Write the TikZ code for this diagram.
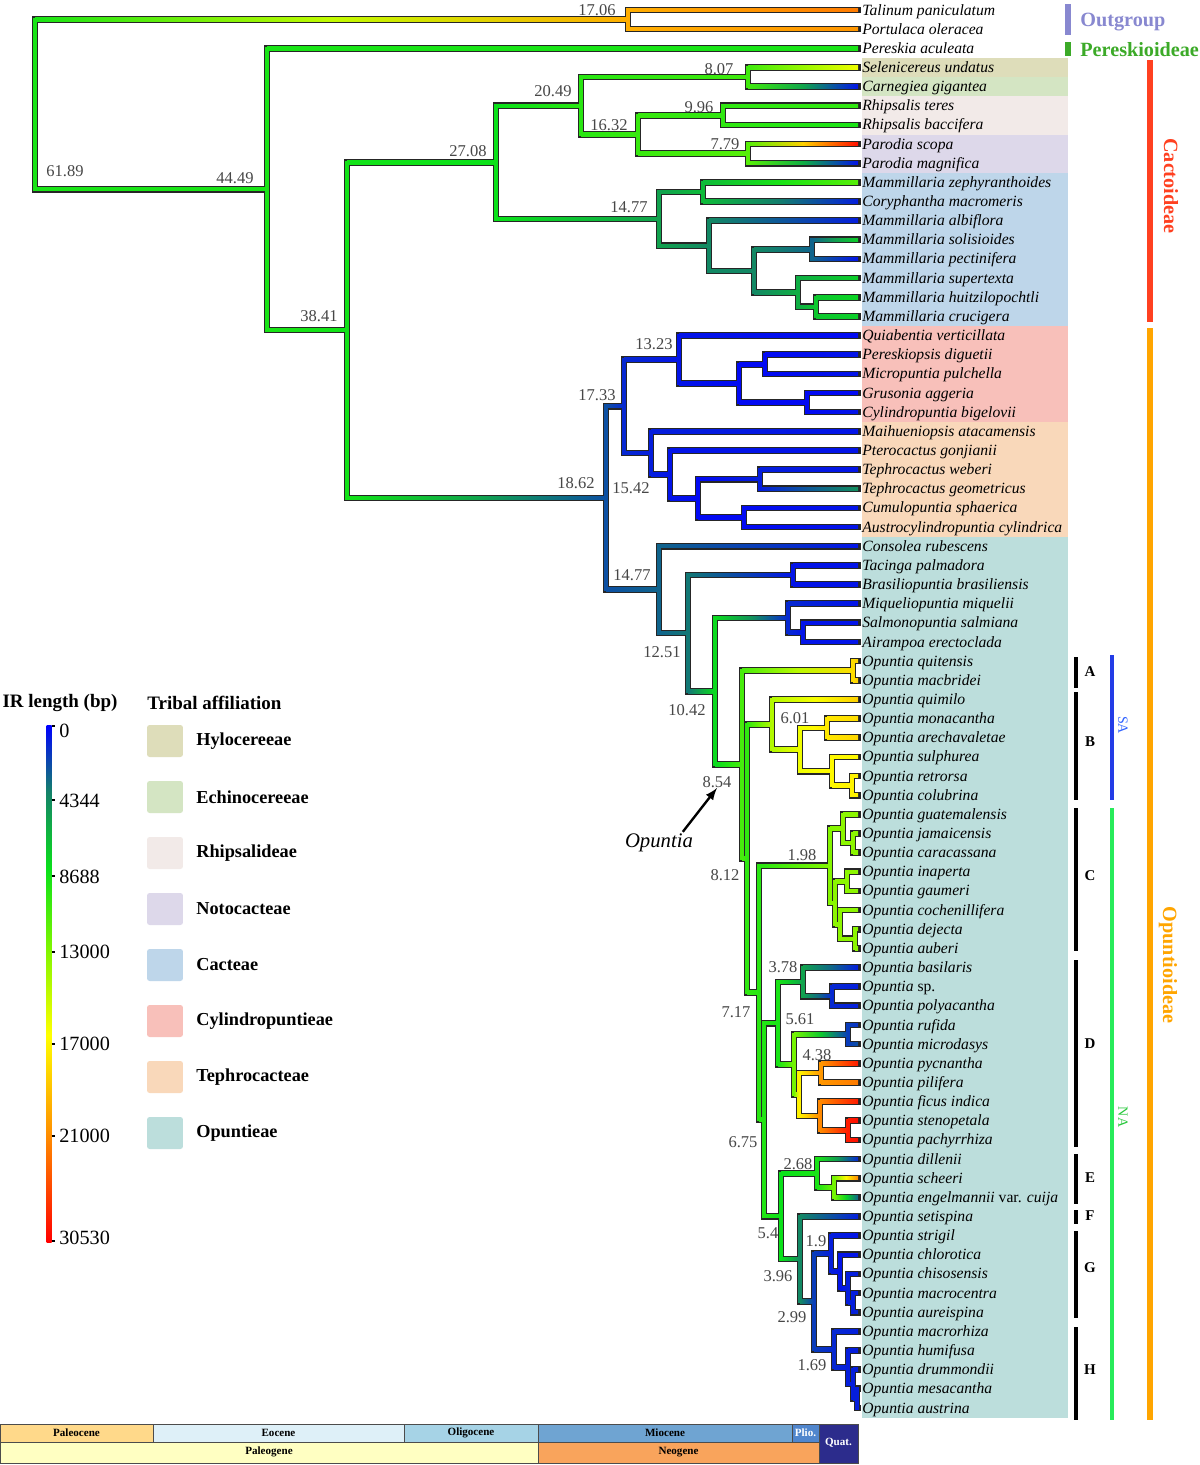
\documentclass[tikz,border=0pt]{standalone}
\usepackage{fontspec}
\setmainfont{Liberation Serif}
\usetikzlibrary{calc}
\pgfdeclarelayer{back}
\pgfdeclarelayer{bg}
\pgfsetlayers{back,bg,main}
\definecolor{cb0}{RGB}{0,0,255}
\definecolor{cb1}{RGB}{20,130,105}
\definecolor{cb2}{RGB}{10,225,25}
\definecolor{cb3}{RGB}{125,245,0}
\definecolor{cb4}{RGB}{255,255,0}
\definecolor{cb5}{RGB}{255,150,0}
\definecolor{cb6}{RGB}{255,0,0}
\definecolor{hylo}{RGB}{222,221,186}
\definecolor{echi}{RGB}{212,229,195}
\definecolor{rhip}{RGB}{242,234,232}
\definecolor{noto}{RGB}{221,216,234}
\definecolor{cact}{RGB}{190,214,234}
\definecolor{cyli}{RGB}{248,192,186}
\definecolor{teph}{RGB}{249,216,186}
\definecolor{opun}{RGB}{188,222,220}
\definecolor{outg}{RGB}{136,136,208}
\definecolor{peres}{RGB}{60,170,40}
\definecolor{cacto}{RGB}{255,64,32}
\definecolor{opunt}{RGB}{255,165,0}
\definecolor{sabar}{RGB}{35,60,230}
\definecolor{satxt}{RGB}{50,100,255}
\definecolor{nabar}{RGB}{40,235,90}
\definecolor{natxt}{RGB}{40,200,60}
\definecolor{paleoc}{RGB}{255,217,138}
\definecolor{eoc}{RGB}{222,240,248}
\definecolor{oligo}{RGB}{166,211,230}
\definecolor{mioc}{RGB}{111,164,210}
\definecolor{plio}{RGB}{80,134,205}
\definecolor{quat}{RGB}{44,44,140}
\definecolor{paleog}{RGB}{255,255,194}
\definecolor{neog}{RGB}{249,164,92}
\pgfdeclareverticalshading{irbar}{100bp}{color(0bp)=(cb6); color(25bp)=(cb6); color(36bp)=(cb5); color(45bp)=(cb4); color(53.5bp)=(cb3); color(61bp)=(cb2); color(68.5bp)=(cb1); color(75bp)=(cb0); color(100bp)=(cb0)}
\NewDocumentCommand\irc{mm}{%
  \pgfmathsetmacro\irv{#1}%
  \ifdim\irv pt<13pt\relax
    \pgfmathsetmacro\irp{100*\irv/13}\colorlet{#2}{cb1!\irp!cb0}%
  \else\ifdim\irv pt<28pt\relax
    \pgfmathsetmacro\irp{100*(\irv-13)/15}\colorlet{#2}{cb2!\irp!cb1}%
  \else\ifdim\irv pt<43pt\relax
    \pgfmathsetmacro\irp{100*(\irv-28)/15}\colorlet{#2}{cb3!\irp!cb2}%
  \else\ifdim\irv pt<60pt\relax
    \pgfmathsetmacro\irp{100*(\irv-43)/17}\colorlet{#2}{cb4!\irp!cb3}%
  \else\ifdim\irv pt<78pt\relax
    \pgfmathsetmacro\irp{100*(\irv-60)/18}\colorlet{#2}{cb5!\irp!cb4}%
  \else
    \pgfmathsetmacro\irp{100*(\irv-78)/22}\colorlet{#2}{cb6!\irp!cb5}%
  \fi\fi\fi\fi\fi}
\NewDocumentCommand\leaf{mmmm}{%
  \coordinate (#1) at (858,{10+(#2-1)*19.15});
  \expandafter\gdef\csname ir@#1\endcsname{#3}%
  \node[taxon] (#1-t) at (862,{10+(#2-1)*19.15}) {#4};}
\NewDocumentCommand\brn{mm}{%
  \pgfmathsetmacro\va{\csname ir@#1\endcsname}%
  \pgfmathsetmacro\vb{\csname ir@#2\endcsname}%
  \pgfmathsetmacro\vm{(\va+\vb)/2}%
  \irc{\va}{brA}\irc{\vb}{brB}\irc{\vm}{brM}%
  \begin{pgfonlayer}{bg}\draw[brout] (#1) |- (#2);\end{pgfonlayer}%
  \draw[brin, brA] (#1) -- (#1 |- #2);
  \shade[left color=brA, right color=brB, middle color=brM] ($(#1 |- #2)+(0,-1.75)$) rectangle ($(#2)+(0,1.75)$);}
\NewDocumentCommand\clade{mmmmm}{%
  \path (#3) -- (#4) coordinate[pos=.5] (#1-m);
  \coordinate (#1) at (#2,0 |- #1-m);
  \expandafter\gdef\csname ir@#1\endcsname{#5}%
  \brn{#1}{#3}\brn{#1}{#4}}
\begin{document}
\begin{tikzpicture}[>=latex, x=0.02cm, y=-0.02cm,
  brout/.style={line width=3.8pt, draw=black!85, line cap=rect, line join=miter},
  brin/.style={line width=2pt, line cap=rect},
  taxon/.style={anchor=west, inner sep=0pt, text height=1.5ex, text depth=.25ex, font=\fontsize{8.9}{10}\selectfont\itshape},
  blab/.style={inner sep=0pt, text=black!72, font=\fontsize{9.4}{10}\selectfont},
  grp/.style={inner sep=0pt, font=\fontsize{11.5}{12}\selectfont\bfseries},
  cl/.style={inner sep=0pt, font=\fontsize{8.5}{9}\selectfont\bfseries},
  reg/.style={inner sep=0pt, rotate=-90, font=\fontsize{8}{9}\selectfont},
  legh/.style={inner sep=0pt, font=\fontsize{10.8}{12}\selectfont\bfseries},
  legl/.style={anchor=west, inner sep=0pt, font=\fontsize{10.4}{12}\selectfont\bfseries},
  swatch/.style={minimum width=0.72cm, minimum height=0.64cm, inner sep=0pt, rounded corners=1.5pt},
  cbl/.style={anchor=west, inner sep=0pt, font=\fontsize{11.5}{12}\selectfont},
  gts/.style={draw=black!70, line width=0.5pt},
  gtxt/.style={inner sep=0pt, font=\fontsize{6.3}{7}\selectfont\bfseries}]
\begin{pgfonlayer}{back}
\fill[white] (0,0) rectangle (1200,1465);
\end{pgfonlayer}
\useasboundingbox (0,0) rectangle (1200,1465);

\fill[hylo] (862,57.9) rectangle (1068,77);
\fill[echi] (862,77) rectangle (1068,96.2);
\fill[rhip] (862,96.2) rectangle (1068,134.5);
\fill[noto] (862,134.5) rectangle (1068,172.8);
\fill[cact] (862,172.8) rectangle (1068,326);
\fill[cyli] (862,326) rectangle (1068,421.7);
\fill[teph] (862,421.7) rectangle (1068,536.6);
\fill[opun] (862,536.6) rectangle (1068,1417.6);

\leaf{tal}{1}{82}{Talinum paniculatum}
\leaf{por}{2}{78}{Portulaca oleracea}
\leaf{per}{3}{30}{Pereskia aculeata}
\leaf{sel}{4}{58}{Selenicereus undatus}
\leaf{car}{5}{2}{Carnegiea gigantea}
\leaf{rte}{6}{33}{Rhipsalis teres}
\leaf{rba}{7}{30}{Rhipsalis baccifera}
\leaf{psc}{8}{98}{Parodia scopa}
\leaf{pma}{9}{2}{Parodia magnifica}
\leaf{mze}{10}{38}{Mammillaria zephyranthoides}
\leaf{cma}{11}{3}{Coryphantha macromeris}
\leaf{mal}{12}{3}{Mammillaria albiflora}
\leaf{mso}{13}{25}{Mammillaria solisioides}
\leaf{mpe}{14}{2}{Mammillaria pectinifera}
\leaf{msu}{15}{25}{Mammillaria supertexta}
\leaf{mhu}{16}{26}{Mammillaria huitzilopochtli}
\leaf{mcr}{17}{25}{Mammillaria crucigera}
\leaf{qve}{18}{1}{Quiabentia verticillata}
\leaf{pdi}{19}{2}{Pereskiopsis diguetii}
\leaf{mpu}{20}{2}{Micropuntia pulchella}
\leaf{gag}{21}{1}{Grusonia aggeria}
\leaf{cbi}{22}{2}{Cylindropuntia bigelovii}
\leaf{mat}{23}{2}{Maihueniopsis atacamensis}
\leaf{pgo}{24}{2}{Pterocactus gonjianii}
\leaf{twe}{25}{2}{Tephrocactus weberi}
\leaf{tge}{26}{15}{Tephrocactus geometricus}
\leaf{csp}{27}{2}{Cumulopuntia sphaerica}
\leaf{acy}{28}{2}{Austrocylindropuntia cylindrica}
\leaf{cru}{29}{2}{Consolea rubescens}
\leaf{tpa}{30}{2}{Tacinga palmadora}
\leaf{bbr}{31}{2}{Brasiliopuntia brasiliensis}
\leaf{mmi}{32}{2}{Miqueliopuntia miquelii}
\leaf{ssa}{33}{2}{Salmonopuntia salmiana}
\leaf{aer}{34}{2}{Airampoa erectoclada}
\leaf{oqu}{35}{68}{Opuntia quitensis}
\leaf{omb}{36}{68}{Opuntia macbridei}
\leaf{oqm}{37}{68}{Opuntia quimilo}
\leaf{omo}{38}{66}{Opuntia monacantha}
\leaf{oar}{39}{67}{Opuntia arechavaletae}
\leaf{osu}{40}{61}{Opuntia sulphurea}
\leaf{ore}{41}{62}{Opuntia retrorsa}
\leaf{oco}{42}{62}{Opuntia colubrina}
\leaf{ogu}{43}{45}{Opuntia guatemalensis}
\leaf{oja}{44}{45}{Opuntia jamaicensis}
\leaf{oca}{45}{45}{Opuntia caracassana}
\leaf{oin}{46}{45}{Opuntia inaperta}
\leaf{oga}{47}{45}{Opuntia gaumeri}
\leaf{och}{48}{45}{Opuntia cochenillifera}
\leaf{ode}{49}{45}{Opuntia dejecta}
\leaf{oau}{50}{45}{Opuntia auberi}
\leaf{oba}{51}{3}{Opuntia basilaris}
\leaf{osp}{52}{3}{Opuntia \textup{sp.}}
\leaf{opo}{53}{3}{Opuntia polyacantha}
\leaf{oru}{54}{5}{Opuntia rufida}
\leaf{omi}{55}{8}{Opuntia microdasys}
\leaf{opy}{56}{96}{Opuntia pycnantha}
\leaf{opi}{57}{82}{Opuntia pilifera}
\leaf{ofi}{58}{96}{Opuntia ficus indica}
\leaf{ost}{59}{98}{Opuntia stenopetala}
\leaf{opa}{60}{98}{Opuntia pachyrrhiza}
\leaf{odi}{61}{4}{Opuntia dillenii}
\leaf{osc}{62}{80}{Opuntia scheeri}
\leaf{oen}{63}{10}{Opuntia engelmannii \textup{var.} cuija}
\leaf{ose}{64}{3}{Opuntia setispina}
\leaf{osg}{65}{2}{Opuntia strigil}
\leaf{ocl}{66}{2}{Opuntia chlorotica}
\leaf{ocs}{67}{3}{Opuntia chisosensis}
\leaf{omc}{68}{3}{Opuntia macrocentra}
\leaf{oai}{69}{4}{Opuntia aureispina}
\leaf{omr}{70}{3}{Opuntia macrorhiza}
\leaf{ohu}{71}{3}{Opuntia humifusa}
\leaf{odr}{72}{3}{Opuntia drummondii}
\leaf{ome}{73}{3}{Opuntia mesacantha}
\leaf{oas}{74}{3}{Opuntia austrina}

\clade{nog}{628}{tal}{por}{74}
\clade{nhy}{748}{sel}{car}{35}
\clade{nrh}{723}{rte}{rba}{33}
\clade{npa}{748}{psc}{pma}{38}
\clade{nrp}{638}{nrh}{npa}{34}
\clade{nhr}{581}{nhy}{nrp}{32}
\clade{nmz}{703}{mze}{cma}{22}
\clade{nmd}{812}{mso}{mpe}{10}
\clade{nmf}{816}{mhu}{mcr}{24}
\clade{nme}{798}{msu}{nmf}{20}
\clade{nmc}{754}{nmd}{nme}{14}
\clade{nmb}{709}{mal}{nmc}{14}
\clade{nca}{659}{nmz}{nmb}{18}
\clade{nct}{496}{nhr}{nca}{28}
\clade{npm}{765}{pdi}{mpu}{1}
\clade{ngc}{807}{gag}{cbi}{1}
\clade{npg}{739}{npm}{ngc}{1}
\clade{ncy}{679}{qve}{npg}{2}
\clade{ntw}{760}{twe}{tge}{3}
\clade{ncu}{744}{csp}{acy}{1}
\clade{ntc}{698}{ntw}{ncu}{1}
\clade{npt}{670}{pgo}{ntc}{2}
\clade{nte}{651}{mat}{npt}{3}
\clade{ncte}{624}{ncy}{nte}{4}
\clade{ntb}{793}{tpa}{bbr}{2}
\clade{nsa}{803}{ssa}{aer}{2}
\clade{nmq}{788}{mmi}{nsa}{4}
\clade{nA}{853}{oqu}{omb}{66}
\clade{nrc}{852}{ore}{oco}{62}
\clade{nsu}{832}{osu}{nrc}{61}
\clade{nma}{827}{omo}{oar}{64}
\clade{nb6}{800}{nma}{nsu}{58}
\clade{nB}{772}{oqm}{nb6}{50}
\clade{njc}{853}{oja}{oca}{45}
\clade{nc1}{843}{ogu}{njc}{45}
\clade{nig}{847}{oin}{oga}{45}
\clade{nda}{855}{ode}{oau}{45}
\clade{ncd}{840}{och}{nda}{45}
\clade{nc2}{835}{nig}{ncd}{45}
\clade{nC}{830}{nc1}{nc2}{44}
\clade{nsp}{832}{osp}{opo}{4}
\clade{nb3}{803}{oba}{nsp}{18}
\clade{nrm}{848}{oru}{omi}{6}
\clade{npp}{821}{opy}{opi}{78}
\clade{nsp2}{848}{ost}{opa}{96}
\clade{nfs}{820}{ofi}{nsp2}{80}
\clade{nY}{799}{npp}{nfs}{62}
\clade{nX}{794}{nrm}{nY}{42}
\clade{nD}{778}{nb3}{nX}{30}
\clade{nse}{834}{osc}{oen}{42}
\clade{nE}{817}{odi}{nse}{30}
\clade{nmac}{853}{omc}{oai}{3}
\clade{nchi}{848}{ocs}{nmac}{3}
\clade{nchl}{840}{ocl}{nchi}{2}
\clade{nG}{831}{osg}{nchl}{3}
\clade{nme2}{857}{ome}{oas}{3}
\clade{ndr}{853}{odr}{nme2}{3}
\clade{nhu}{848}{ohu}{ndr}{3}
\clade{nH}{834}{omr}{nhu}{4}
\clade{n299}{814}{nG}{nH}{6}
\clade{n396}{800}{ose}{n299}{14}
\clade{n54}{781}{nE}{n396}{28}
\clade{n675}{764}{nD}{n54}{31}
\clade{n717}{759}{nC}{n675}{32}
\clade{n812}{747}{nB}{n717}{33}
\clade{n854}{742}{nA}{n812}{36}
\clade{n1042}{715}{nmq}{n854}{27}
\clade{n1251}{688}{ntb}{n1042}{12}
\clade{n1477}{659}{cru}{n1251}{10}
\clade{n1862}{606}{ncte}{n1477}{8}
\clade{n3841}{347}{nct}{n1862}{29}
\clade{n4449}{267}{per}{n3841}{30}
\clade{nroot}{35}{nog}{n4449}{30}

\node[blab] (l1706) at (597,10) {17.06};
\node[blab] (l6189) at (65,171) {61.89};
\node[blab] (l4449) at (235,178) {44.49};
\node[blab] (l3841) at (319,316) {38.41};
\node[blab] (l2708) at (468,151) {27.08};
\node[blab] (l2049) at (553,91) {20.49};
\node[blab] (l807) at (719,69) {8.07};
\node[blab] (l1632) at (609,125) {16.32};
\node[blab] (l996) at (699,107) {9.96};
\node[blab] (l779) at (725,144) {7.79};
\node[blab] (l1477c) at (629,207) {14.77};
\node[blab] (l1323) at (654,344) {13.23};
\node[blab] (l1733) at (597,395) {17.33};
\node[blab] (l1862) at (576,483) {18.62};
\node[blab] (l1542) at (631,488) {15.42};
\node[blab] (l1477o) at (632,575) {14.77};
\node[blab] (l1251) at (662,652) {12.51};
\node[blab] (l1042) at (687,710) {10.42};
\node[blab] (l854) at (717,782) {8.54};
\node[blab] (l601) at (795,718) {6.01};
\node[blab] (l198) at (802,855) {1.98};
\node[blab] (l812) at (725,875) {8.12};
\node[blab] (l378) at (783,967) {3.78};
\node[blab] (l717) at (736,1012) {7.17};
\node[blab] (l561) at (800,1019) {5.61};
\node[blab] (l438) at (817,1055) {4.38};
\node[blab] (l675) at (743,1142) {6.75};
\node[blab] (l268) at (798,1164) {2.68};
\node[blab] (l54) at (768,1233) {5.4};
\node[blab] (l19) at (816,1241) {1.9};
\node[blab] (l396) at (778,1276) {3.96};
\node[blab] (l299) at (792,1317) {2.99};
\node[blab] (l169) at (812,1365) {1.69};

\node[inner sep=1pt, font=\fontsize{11.8}{13}\selectfont\itshape] (opu) at (659,843) {Opuntia};
\draw[->, line width=1.35pt] ([xshift=-7pt]opu.north east) -- (l854.south);

\draw[outg, line width=3pt] (1068,4) -- (1068,35);
\node[grp, anchor=west, text=outg] (outgroup) at (1080,22) {Outgroup};
\draw[peres, line width=3pt] (1068,42) -- (1068,56);
\node[grp, anchor=west, text=peres] (pereskioideae) at (1080,50) {Pereskioideae};
\draw[cacto, line width=3pt] (1150,60) -- (1150,322);
\node[grp, rotate=-90, text=cacto] (cactoideae) at (1171,186) {Cactoideae};
\draw[opunt, line width=3pt] (1150,328) -- (1150,1420);
\node[grp, rotate=-90, text=opunt] (opuntioideae) at (1168,965) {Opuntioideae};
\draw[sabar, line width=2.6pt] (1112,655) -- (1112,800);
\node[reg, text=satxt] (sa) at (1123,725) {SA};
\draw[nabar, line width=2.6pt] (1112,808) -- (1112,1420);
\node[reg, text=natxt] (na) at (1123,1117) {NA};

\draw[line width=2.3pt] (1076,657) -- (1076,688);
\node[cl] (cA) at (1090,672) {A};
\draw[line width=2.3pt] (1076,692) -- (1076,800);
\node[cl] (cB) at (1090,742) {B};
\draw[line width=2.3pt] (1076,808) -- (1076,951);
\node[cl] (cC) at (1090,876) {C};
\draw[line width=2.3pt] (1076,960) -- (1076,1147);
\node[cl] (cD) at (1090,1044) {D};
\draw[line width=2.3pt] (1076,1154) -- (1076,1204);
\node[cl] (cE) at (1090,1178) {E};
\draw[line width=2.3pt] (1076,1210) -- (1076,1224);
\node[cl] (cF) at (1090,1216) {F};
\draw[line width=2.3pt] (1076,1231) -- (1076,1318);
\node[cl] (cG) at (1090,1268) {G};
\draw[line width=2.3pt] (1076,1327) -- (1076,1420);
\node[cl] (cH) at (1090,1370) {H};

\node[legh] (irt) at (60,703) {IR length (bp)};
\shade[shading=irbar] (46.5,725) rectangle (51.5,1242);
\draw[line width=0.6pt] (51.5,726) -- (55,726);
\draw[line width=0.6pt] (51.5,800) -- (55,800);
\draw[line width=0.6pt] (51.5,876) -- (55,876);
\draw[line width=0.6pt] (51.5,952) -- (55,952);
\draw[line width=0.6pt] (51.5,1044) -- (55,1044);
\draw[line width=0.6pt] (51.5,1136) -- (55,1136);
\draw[line width=0.6pt] (51.5,1241) -- (55,1241);
\node[cbl] (k0) at (59,731) {0};
\node[cbl] (k1) at (59,801) {4344};
\node[cbl] (k2) at (59,877) {8688};
\node[cbl] (k3) at (59,952) {13000};
\node[cbl] (k4) at (59,1044) {17000};
\node[cbl] (k5) at (59,1136) {21000};
\node[cbl] (k6) at (59,1238) {30530};

\node[legh, anchor=west] (tat) at (147,703) {Tribal affiliation};
\node[swatch, fill=hylo] (s1) at (165,741) {};
\node[legl] (g1) at (196,741) {Hylocereeae};
\node[swatch, fill=echi] (s2) at (165,797) {};
\node[legl] (g2) at (196,797) {Echinocereeae};
\node[swatch, fill=rhip] (s3) at (165,853) {};
\node[legl] (g3) at (196,853) {Rhipsalideae};
\node[swatch, fill=noto] (s4) at (165,909) {};
\node[legl] (g4) at (196,909) {Notocacteae};
\node[swatch, fill=cact] (s5) at (165,965) {};
\node[legl] (g5) at (196,965) {Cacteae};
\node[swatch, fill=cyli] (s6) at (165,1021) {};
\node[legl] (g6) at (196,1021) {Cylindropuntieae};
\node[swatch, fill=teph] (s7) at (165,1077) {};
\node[legl] (g7) at (196,1077) {Tephrocacteae};
\node[swatch, fill=opun] (s8) at (165,1133) {};
\node[legl] (g8) at (196,1133) {Opuntieae};

\draw[gts, fill=paleoc] (0,1424) rectangle (153,1442);
\node[gtxt] (paleocene) at (76.5,1433) {Paleocene};
\draw[gts, fill=eoc] (153,1424) rectangle (404,1442);
\node[gtxt] (eocene) at (278.5,1433) {Eocene};
\draw[gts, fill=oligo] (404,1424) rectangle (538,1442);
\node[gtxt] (oligocene) at (471,1433) {Oligocene};
\draw[gts, fill=mioc] (538,1424) rectangle (792,1442);
\node[gtxt] (miocene) at (665,1433) {Miocene};
\draw[gts, fill=plio] (792,1424) rectangle (819,1442);
\node[gtxt, text=white] (pliocene) at (805.5,1433) {Plio.};
\draw[gts, fill=quat] (819,1424) rectangle (858,1463);
\node[gtxt, text=white] (quaternary) at (838.5,1443) {Quat.};
\draw[gts, fill=paleog] (0,1442) rectangle (538,1463);
\node[gtxt] (paleogene) at (269,1452) {Paleogene};
\draw[gts, fill=neog] (538,1442) rectangle (819,1463);
\node[gtxt] (neogene) at (678.5,1452) {Neogene};
\end{tikzpicture}
\end{document}
